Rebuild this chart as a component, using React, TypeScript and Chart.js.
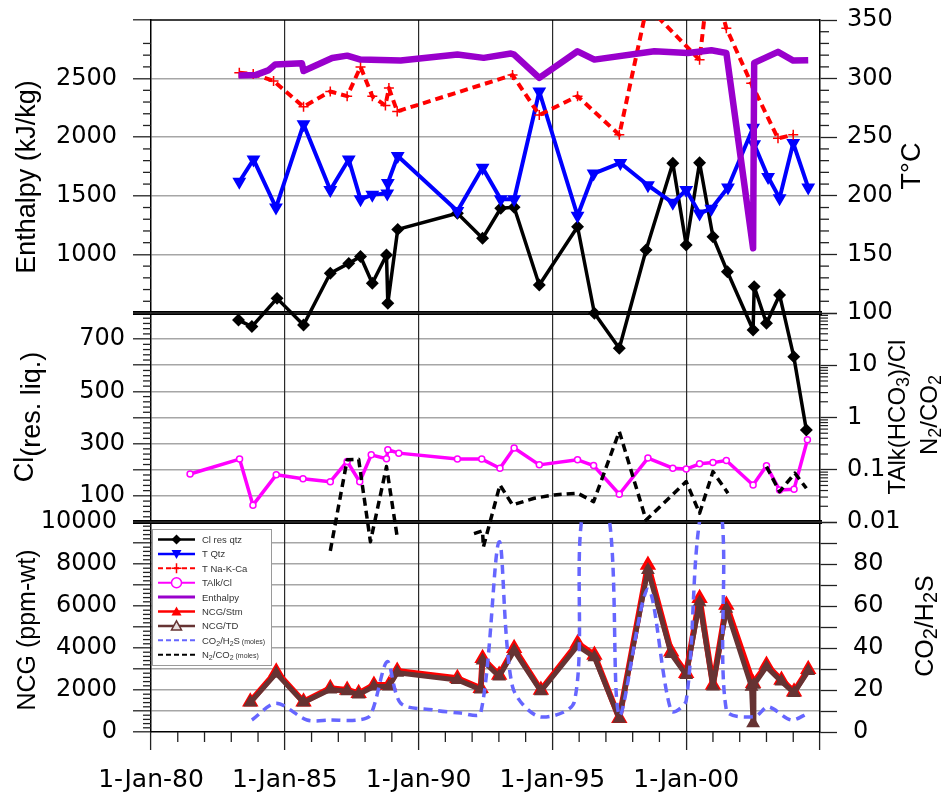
import { useEffect, useRef } from 'react';
import { Chart, registerables } from 'chart.js';

Chart.register(...registerables);

const TICK_FONT = '"DejaVu Sans", Verdana, sans-serif';
const TITLE_FONT = '"Liberation Sans", Arial, sans-serif';

// ---------- series (dates as decimal years) ----------
const clDates = [1983.27, 1983.77, 1984.71, 1985.7, 1986.7, 1987.39, 1987.83, 1988.27, 1988.8, 1988.85, 1989.22, 1991.45, 1992.39, 1993.07, 1993.57, 1994.51, 1995.94, 1996.57, 1997.5, 1998.5, 1999.5, 2000.0, 2000.5, 2001.0, 2001.54, 2002.5, 2002.54, 2003.0, 2003.49, 2004.02, 2004.49];
const clResQtz = [773, 748, 856, 754, 952, 990, 1016, 914, 1022, 837, 1120, 1182, 1086, 1201, 1205, 907, 1130, 799, 665, 1041, 1373, 1060, 1375, 1092, 958, 735, 901, 761, 869, 633, 352];

const qtzDates = [1983.3, 1983.83, 1984.67, 1985.7, 1986.7, 1987.39, 1987.83, 1988.27, 1988.83, 1988.85, 1989.22, 1991.45, 1992.39, 1993.07, 1993.57, 1994.51, 1995.94, 1996.54, 1997.54, 1998.57, 1999.5, 2000.0, 2000.5, 2000.94, 2001.56, 2002.5, 2002.54, 2003.06, 2003.49, 2004.0, 2004.56];
const tQtz = [212, 231, 190, 261, 205, 231, 197, 201, 202, 211, 234, 187, 224, 197, 197, 289, 183, 219, 228, 209, 194, 205, 185, 189, 207, 258, 244, 216, 198, 245, 207];

const nkcDates = [1983.3, 1983.82, 1984.58, 1985.7, 1986.7, 1987.33, 1987.83, 1988.27, 1988.76, 1988.89, 1989.2, 1993.51, 1994.51, 1995.94, 1997.5, 1998.46, 1998.88, 2000.5, 2000.69, 2001.37, 2001.5, 2002.43, 2003.43, 2004.0];
const tNaKCa = [305, 304, 298, 276, 289, 285, 310, 285, 277, 292, 272, 303, 269, 285, 252, 354, 354, 316, 354, 354, 343, 296, 249, 252];

const talkDates = [1981.46, 1983.31, 1983.81, 1984.68, 1985.68, 1986.7, 1987.33, 1987.8, 1988.23, 1988.8, 1988.85, 1989.26, 1991.45, 1992.36, 1993.04, 1993.57, 1994.51, 1995.94, 1996.54, 1997.5, 1998.57, 1999.5, 2000.0, 2000.5, 2001.0, 2001.5, 2002.5, 2003.0, 2003.49, 2004.03, 2004.53];
const talkCl = [0.083, 0.16, 0.021, 0.08, 0.067, 0.059, 0.144, 0.059, 0.193, 0.162, 0.241, 0.208, 0.16, 0.16, 0.107, 0.26, 0.124, 0.155, 0.12, 0.034, 0.167, 0.107, 0.103, 0.13, 0.137, 0.15, 0.051, 0.119, 0.041, 0.0425, 0.375];

const enthDates = [1983.27, 1983.9, 1984.38, 1984.64, 1985.64, 1985.7, 1986.77, 1987.33, 1987.83, 1989.33, 1991.45, 1992.43, 1993.45, 1993.57, 1994.51, 1995.94, 1996.57, 1998.81, 2000.06, 2000.94, 2001.5, 2002.5, 2002.54, 2003.43, 2004.0, 2004.56];
const enthalpy = [2526, 2530, 2570, 2620, 2630, 2565, 2676, 2696, 2662, 2654, 2705, 2677, 2714, 2705, 2506, 2733, 2662, 2733, 2719, 2742, 2719, 1053, 2634, 2728, 2654, 2656];

const ncgStmDates = [1983.71, 1984.68, 1985.7, 1986.7, 1987.33, 1987.76, 1988.33, 1988.89, 1989.2, 1991.45, 1992.32, 1992.39, 1993.01, 1993.57, 1994.57, 1995.94, 1996.57, 1997.5, 1998.57, 1999.44, 2000.0, 2000.5, 2001.0, 2001.5, 2002.5, 2003.0, 2003.56, 2004.03, 2004.56];
const ncgStm = [1443, 2871, 1443, 2081, 2000, 1843, 2238, 2238, 2900, 2557, 2081, 3509, 2714, 3986, 2000, 4224, 3667, 652, 7952, 3824, 2795, 6367, 2238, 6048, 2319, 3190, 2476, 1919, 2986];

const ncgTdDates = [1983.71, 1984.68, 1985.7, 1986.7, 1987.33, 1987.76, 1988.33, 1988.89, 1989.2, 1991.45, 1992.32, 1992.39, 1993.01, 1993.57, 1994.57, 1995.94, 1996.57, 1997.5, 1998.57, 1999.44, 2000.0, 2000.5, 2001.0, 2001.5, 2002.44, 2002.5, 2002.53, 2003.0, 2003.56, 2004.03, 2004.56];
const ncgTd = [1400, 2790, 1400, 2020, 1940, 1790, 2170, 2170, 2820, 2480, 2020, 3410, 2640, 3870, 1940, 4100, 3560, 630, 7720, 3710, 2710, 6180, 2170, 5870, 2150, 414, 2250, 3100, 2400, 1860, 2900];

const co2Dates = [1983.77, 1984.68, 1985.83, 1986.7, 1987.7, 1988.2, 1988.83, 1989.33, 1990.56, 1991.57, 1992.32, 1993.01, 1993.51, 1994.51, 1995.82, 1996.14, 1997.08, 1997.5, 1998.57, 1999.44, 2000.0, 2000.56, 2001.31, 2001.5, 2002.56, 2003.06, 2003.93, 2004.56];
const co2H2s = [5.7, 13.7, 5.7, 5.7, 5.7, 8, 33.5, 13.7, 10.5, 9, 9, 90.6, 21.6, 7.3, 14.4, 105, 105, 8, 68, 10, 15, 105, 105, 10.5, 7.3, 12, 5.7, 9];

const n2Dates = [1986.7, 1987.33, 1987.76, 1988.2, 1988.8, 1989.2, 1990.6, 1992.07, 1992.39, 1992.42, 1993.04, 1993.51, 1994.32, 1995.07, 1995.94, 1996.54, 1997.5, 1998.5, 2000.0, 2000.5, 2001.0, 2001.56, 2002.3, 2003.0, 2003.49, 2004.06, 2004.49];
const n2Co2 = [0.0028, 0.155, 0.158, 0.0042, 0.115, 0.0052, null, 0.006, 0.0068, 0.0033, 0.0513, 0.0212, 0.0285, 0.033, 0.0356, 0.0245, 0.54, 0.0109, 0.0594, 0.0147, 0.092, 0.0356, null, 0.115, 0.038, 0.086, 0.0443];

// ---------- axis ticks ----------
const yearTicks = [1980, 1985, 1990, 1995, 2000, 2005];
const yearLabels = [1980, 1985, 1990, 1995, 2000];
const enthalpyTicks = [500, 1000, 1500, 2000, 2500, 3000];
const enthalpyLabels = [1000, 1500, 2000, 2500];
const tempTicks = [100, 150, 200, 250, 300, 350];
const tempLabels = [150, 200, 250, 300, 350];
const clTicks = [0, 100, 200, 300, 400, 500, 600, 700, 800];
const clLabels = [100, 300, 500, 700];
const ratioTicks = [0.01, 0.1, 1, 10, 100];
const ncgTicks = [0, 1000, 2000, 3000, 4000, 5000, 6000, 7000, 8000, 9000, 10000];
const ncgLabels = [0, 2000, 4000, 6000, 8000, 10000];
const co2Ticks = [0, 10, 20, 30, 40, 50, 60, 70, 80, 90, 100];
const co2Labels = [0, 20, 40, 60, 80];

const GRID = '#a6a6a6';
const TICK = '#222';

const steps = (from: number, to: number, step: number) => {
  const out: number[] = [];
  for (let v = from; v <= to + 1e-9; v += step) out.push(Math.round(v * 1000) / 1000);
  return out;
};
const enthalpyMinor = steps(600, 2800, 100).filter((v) => v % 500 !== 0);
const clMinor = steps(20, 780, 20).filter((v) => v % 100 !== 0);
const ncgMinor = steps(200, 9800, 200).filter((v) => v % 1000 !== 0);
const tempMinor = steps(110, 340, 10).filter((v) => v % 50 !== 0);
const ratioMinor = [0.01, 0.1, 1, 10].flatMap((d) => [2, 3, 4, 5, 6, 7, 8, 9].map((m) => m * d));
const yearMinor = steps(1981, 2004, 1).filter((v) => v % 5 !== 0);

const xy = (xs: number[], ys: (number | null)[]) => xs.map((x, i) => ({ x, y: ys[i] }));
const fixedTicks = (values: number[]) => (scale: any) => {
  scale.ticks = values.map((value) => ({ value }));
};
const showOnly = (shown: number[], fmt: (v: number) => string = (v) => String(v)) => (v: any) =>
  shown.includes(Number(v)) ? fmt(Number(v)) : '';
const gridAt = (shown: number[], color: string) => (c: any) =>
  c.tick && shown.includes(c.tick.value) ? color : 'rgba(0,0,0,0)';
const tickFont = { family: TICK_FONT, size: 24 };
const dateFont = { family: TICK_FONT, size: 25 };
// fixed axis box sizes; label overhang must not shrink the plot area
const fitY = (width: number) => (sc: any) => {
  sc.width = width;
  sc.paddingTop = 0;
  sc.paddingBottom = 0;
};
const fitX = (sc: any) => {
  sc.height = 66;
  sc.paddingLeft = 0;
  sc.paddingRight = 0;
};

// ---------- text helpers ----------
type Part = { t: string; size: number; shift?: number };

function drawRotated(ctx: CanvasRenderingContext2D, baseX: number, centerY: number, parts: Part[]) {
  ctx.save();
  let total = 0;
  const widths = parts.map((p) => {
    ctx.font = `${p.size}px ${TITLE_FONT}`;
    const w = ctx.measureText(p.t).width;
    total += w;
    return w;
  });
  ctx.translate(baseX, centerY);
  ctx.rotate(-Math.PI / 2);
  ctx.fillStyle = '#000';
  ctx.textAlign = 'left';
  ctx.textBaseline = 'alphabetic';
  let x = -total / 2;
  parts.forEach((p, i) => {
    ctx.font = `${p.size}px ${TITLE_FONT}`;
    ctx.fillText(p.t, x, p.shift || 0);
    x += widths[i];
  });
  ctx.restore();
}

function drawRich(ctx: CanvasRenderingContext2D, x: number, y: number, parts: Part[], color: string) {
  ctx.fillStyle = color;
  ctx.textAlign = 'left';
  ctx.textBaseline = 'alphabetic';
  let cx = x;
  for (const p of parts) {
    ctx.font = `${p.size}px ${TITLE_FONT}`;
    ctx.fillText(p.t, cx, y + (p.shift || 0));
    cx += ctx.measureText(p.t).width;
  }
}

type Marker = 'diamond' | 'down' | 'plus' | 'circle' | 'up' | 'upOpen' | null;
type LegendItem = { parts: Part[]; color: string; width: number; dash?: number[]; marker: Marker };

const LS = 9.5;
const legendItems: LegendItem[] = [
  { parts: [{ t: 'Cl res qtz', size: LS }], color: '#000000', width: 2.5, marker: 'diamond' },
  { parts: [{ t: 'T Qtz', size: LS }], color: '#0000ff', width: 2.5, marker: 'down' },
  { parts: [{ t: 'T Na-K-Ca', size: LS }], color: '#ff0000', width: 2, dash: [5, 3], marker: 'plus' },
  { parts: [{ t: 'TAlk/Cl', size: LS }], color: '#ff00ff', width: 2, marker: 'circle' },
  { parts: [{ t: 'Enthalpy', size: LS }], color: '#9900cc', width: 3, marker: null },
  { parts: [{ t: 'NCG/Stm', size: LS }], color: '#ff0000', width: 2.5, marker: 'up' },
  { parts: [{ t: 'NCG/TD', size: LS }], color: '#663333', width: 2.5, marker: 'upOpen' },
  {
    parts: [
      { t: 'CO', size: LS }, { t: '2', size: 7, shift: 2 }, { t: '/H', size: LS }, { t: '2', size: 7, shift: 2 },
      { t: 'S', size: LS }, { t: ' (moles)', size: 7 },
    ],
    color: '#6666ff', width: 2, dash: [5, 3], marker: null,
  },
  {
    parts: [
      { t: 'N', size: LS }, { t: '2', size: 7, shift: 2 }, { t: '/CO', size: LS }, { t: '2', size: 7, shift: 2 },
      { t: ' (moles)', size: 7 },
    ],
    color: '#000000', width: 2, dash: [5, 3], marker: null,
  },
];

function drawMarker(ctx: CanvasRenderingContext2D, kind: Marker, x: number, y: number, color: string) {
  if (!kind) return;
  ctx.save();
  ctx.setLineDash([]);
  ctx.fillStyle = color;
  ctx.strokeStyle = color;
  ctx.lineWidth = 1.5;
  ctx.beginPath();
  if (kind === 'diamond') {
    ctx.moveTo(x, y - 5); ctx.lineTo(x + 5, y); ctx.lineTo(x, y + 5); ctx.lineTo(x - 5, y); ctx.closePath(); ctx.fill();
  } else if (kind === 'down') {
    ctx.moveTo(x - 5, y - 4); ctx.lineTo(x + 5, y - 4); ctx.lineTo(x, y + 5); ctx.closePath(); ctx.fill();
  } else if (kind === 'up' || kind === 'upOpen') {
    ctx.moveTo(x - 5, y + 4); ctx.lineTo(x + 5, y + 4); ctx.lineTo(x, y - 5); ctx.closePath();
    if (kind === 'up') ctx.fill();
    else { ctx.fillStyle = '#e8dede'; ctx.fill(); ctx.stroke(); }
  } else if (kind === 'plus') {
    ctx.moveTo(x - 5, y); ctx.lineTo(x + 5, y); ctx.moveTo(x, y - 5); ctx.lineTo(x, y + 5); ctx.stroke();
  } else if (kind === 'circle') {
    ctx.arc(x, y, 5, 0, Math.PI * 2); ctx.fillStyle = '#fff'; ctx.fill(); ctx.stroke();
  }
  ctx.restore();
}

const decorations = {
  id: 'decorations',
  beforeDatasetsDraw(chart: any) {
    const { ctx, chartArea: a, scales: s } = chart;
    ctx.save();
    const seg = (x0: number, y0: number, x1: number, y1: number, color: string, w: number) => {
      ctx.beginPath();
      ctx.strokeStyle = color;
      ctx.lineWidth = w;
      ctx.moveTo(x0, y0);
      ctx.lineTo(x1, y1);
      ctx.stroke();
    };
    // top edge of the frame
    seg(a.left, a.top, a.right, a.top, '#000', 1.5);
    // minor tick marks
    enthalpyMinor.forEach((v) => { const y = s.yEnth.getPixelForValue(v); seg(a.left - 8, y, a.left, y, TICK, 1.3); });
    clMinor.forEach((v) => { const y = s.yCl.getPixelForValue(v); seg(a.left - 8, y, a.left, y, TICK, 1.3); });
    ncgMinor.forEach((v) => { const y = s.yNCG.getPixelForValue(v); seg(a.left - 8, y, a.left, y, TICK, 1.3); });
    tempMinor.forEach((v) => { const y = s.yT.getPixelForValue(v); seg(a.right, y, a.right + 9, y, TICK, 1.3); });
    ratioMinor.forEach((v) => { const y = s.yRatio.getPixelForValue(v); seg(a.right, y, a.right + 8, y, TICK, 1.2); });
    yearMinor.forEach((v) => { const x = s.x.getPixelForValue(v); seg(x, a.bottom, x, a.bottom + 10, TICK, 1.3); });
    // panel separators
    [s.yEnth.bottom, s.yCl.bottom].forEach((y: number) => {
      seg(a.left - 18, y, a.right + 2, y, '#000', 4);
      seg(a.left - 18, y, a.right + 2, y, '#555', 0.8);
    });
    ctx.restore();
  },
  afterDraw(chart: any) {
    const { ctx, chartArea: a, scales: s } = chart;
    ctx.save();
    // legend
    const lx = a.left + 1;
    const ly = s.yNCG.top + 7;
    const lw = 119;
    const lh = 136;
    ctx.fillStyle = '#fff';
    ctx.fillRect(lx, ly, lw, lh);
    ctx.strokeStyle = '#9a9a9a';
    ctx.lineWidth = 1;
    ctx.strokeRect(lx + 0.5, ly + 0.5, lw, lh);
    legendItems.forEach((it, i) => {
      const y = ly + 10.5 + i * 14.4;
      ctx.beginPath();
      ctx.setLineDash(it.dash || []);
      ctx.strokeStyle = it.color;
      ctx.lineWidth = it.width;
      ctx.moveTo(lx + 6, y);
      ctx.lineTo(lx + 43, y);
      ctx.stroke();
      ctx.setLineDash([]);
      drawMarker(ctx, it.marker, lx + 24.5, y, it.color);
      drawRich(ctx, lx + 50, y + 3.5, it.parts, '#333');
    });
    // axis titles
    drawRotated(ctx, 35, 177, [{ t: 'Enthalpy (kJ/kg)', size: 27 }]);
    drawRotated(ctx, 33, 417, [{ t: 'Cl', size: 27 }, { t: '(res. liq.)', size: 27, shift: 7 }]);
    drawRotated(ctx, 35, 630, [{ t: 'NCG (ppm-wt)', size: 25 }]);
    drawRotated(ctx, 920, 166, [{ t: 'T°C', size: 27 }]);
    drawRotated(ctx, 905, 417, [
      { t: 'TAlk(HCO', size: 24 }, { t: '3', size: 18, shift: 4 }, { t: ')/Cl', size: 24 },
    ]);
    drawRotated(ctx, 937, 415, [
      { t: 'N', size: 24 }, { t: '2', size: 18, shift: 4 }, { t: '/CO', size: 24 }, { t: '2', size: 18, shift: 4 },
    ]);
    drawRotated(ctx, 933, 626, [
      { t: 'CO', size: 25 }, { t: '2', size: 20, shift: 4 }, { t: '/H', size: 25 }, { t: '2', size: 20, shift: 4 },
      { t: 'S', size: 25 },
    ]);
    ctx.restore();
  },
};

export default function App() {
  const canvasRef = useRef<HTMLCanvasElement | null>(null);

  useEffect(() => {
    const canvas = canvasRef.current;
    if (!canvas) return;
    const chart = new Chart(canvas, {
      type: 'line',
      data: {
        datasets: [
          {
            label: 'N2/CO2 (moles)', data: xy(n2Dates, n2Co2), yAxisID: 'yRatio',
            borderColor: '#000000', borderWidth: 3.5, borderDash: [8, 5], pointRadius: 0, clip: false, spanGaps: false,
          },
          {
            label: 'CO2/H2S (moles)', data: xy(co2Dates, co2H2s), yAxisID: 'yCO2',
            borderColor: '#6666ff', borderWidth: 3.5, borderDash: [9, 6], pointRadius: 0, tension: 0.3,
          },
          {
            label: 'NCG/TD', data: xy(ncgTdDates, ncgTd), yAxisID: 'yNCG',
            borderColor: '#663333', borderWidth: 5, pointStyle: 'triangle', pointRadius: 3,
            pointBackgroundColor: '#663333', pointBorderColor: '#663333',
          },
          {
            label: 'NCG/Stm', data: xy(ncgStmDates, ncgStm), yAxisID: 'yNCG',
            borderColor: '#ff0000', borderWidth: 6, pointStyle: 'triangle', pointRadius: 3.5,
            pointBackgroundColor: '#ff0000', pointBorderColor: '#ff0000',
          },
          {
            label: 'Enthalpy', data: xy(enthDates, enthalpy), yAxisID: 'yEnth',
            borderColor: '#9900cc', borderWidth: 6.5, pointRadius: 0,
          },
          {
            label: 'TAlk/Cl', data: xy(talkDates, talkCl), yAxisID: 'yRatio',
            borderColor: '#ff00ff', borderWidth: 3.5, pointStyle: 'circle', pointRadius: 3,
            pointBackgroundColor: '#ffffff', pointBorderColor: '#ff00ff', pointBorderWidth: 1.5,
          },
          {
            label: 'T Na-K-Ca', data: xy(nkcDates, tNaKCa), yAxisID: 'yT',
            borderColor: '#ff0000', borderWidth: 4, borderDash: [8, 5], pointStyle: 'cross', pointRadius: 5,
            pointBorderColor: '#ff0000', pointBorderWidth: 1.5,
          },
          {
            label: 'T Qtz', data: xy(qtzDates, tQtz), yAxisID: 'yT',
            borderColor: '#0000ff', borderWidth: 4, pointStyle: 'triangle', rotation: 180, pointRadius: 4,
            pointBackgroundColor: '#0000ff', pointBorderColor: '#0000ff',
          },
          {
            label: 'Cl res qtz', data: xy(clDates, clResQtz), yAxisID: 'yCl',
            borderColor: '#000000', borderWidth: 3.5, pointStyle: 'rectRot', pointRadius: 4,
            pointBackgroundColor: '#000000', pointBorderColor: '#000000', clip: false,
          },
        ] as any,
      },
      options: {
        animation: false,
        responsive: true,
        maintainAspectRatio: false,
        events: [],
        layout: { padding: { top: 20, left: 0, right: 0, bottom: 0 } },
        elements: { line: { borderJoinStyle: 'round' } },
        plugins: { legend: { display: false }, tooltip: { enabled: false }, title: { display: false } },
        scales: {
          x: {
            type: 'linear', min: 1980, max: 2005,
            afterBuildTicks: fixedTicks(yearTicks),
            afterFit: fitX,
            ticks: {
              autoSkip: false, maxRotation: 0, padding: 15, font: dateFont, color: '#000',
              callback: showOnly(yearLabels, (v) => '1-Jan-' + String(v % 100).padStart(2, '0')),
            },
            grid: {
              z: 0, color: gridAt([1985, 1990, 1995, 2000], '#2a2a2a'), lineWidth: 1.2,
              tickLength: 18, tickColor: TICK, tickWidth: 1.3,
            },
            border: { color: '#000', width: 1.5 },
          },
          yT: {
            type: 'linear', position: 'right', stack: 'right', stackWeight: 293, weight: 1,
            min: 100, max: 350,
            afterBuildTicks: fixedTicks(tempTicks),
            afterFit: fitY(122),
            ticks: { autoSkip: false, padding: 10, font: tickFont, color: '#000', callback: showOnly(tempLabels) },
            grid: { drawOnChartArea: false, tickLength: 17, tickColor: TICK, tickWidth: 1.3 },
            border: { color: '#000', width: 1.5 },
          },
          yRatio: {
            type: 'logarithmic', position: 'right', stack: 'right', stackWeight: 209, weight: 2,
            min: 0.01, max: 100,
            afterBuildTicks: fixedTicks(ratioTicks),
            afterFit: fitY(122),
            ticks: { autoSkip: false, padding: 10, font: tickFont, color: '#000', callback: (v: any) => String(Number(v)) },
            grid: { drawOnChartArea: false, tickLength: 17, tickColor: TICK, tickWidth: 1.3 },
            border: { color: '#000', width: 1.5 },
          },
          yCO2: {
            type: 'linear', position: 'right', stack: 'right', stackWeight: 210, weight: 3,
            min: 0, max: 100,
            afterBuildTicks: fixedTicks(co2Ticks),
            afterFit: fitY(122),
            ticks: { autoSkip: false, padding: 16, font: tickFont, color: '#000', callback: showOnly(co2Labels) },
            grid: { drawOnChartArea: false, tickLength: 17, tickColor: TICK, tickWidth: 1.3 },
            border: { color: '#000', width: 1.5 },
          },
          yEnth: {
            type: 'linear', position: 'left', stack: 'left', stackWeight: 293, weight: 3,
            min: 500, max: 3000,
            afterBuildTicks: fixedTicks(enthalpyTicks),
            afterFit: fitY(151),
            ticks: { autoSkip: false, padding: 16, font: tickFont, color: '#000', callback: showOnly(enthalpyLabels) },
            grid: { color: gridAt(enthalpyLabels, GRID), lineWidth: 1.6, tickLength: 18, tickColor: TICK, tickWidth: 1.3 },
            border: { color: '#000', width: 1.5 },
          },
          yCl: {
            type: 'linear', position: 'left', stack: 'left', stackWeight: 209, weight: 2,
            min: 0, max: 800,
            afterBuildTicks: fixedTicks(clTicks),
            afterFit: fitY(151),
            ticks: { autoSkip: false, padding: 8, font: tickFont, color: '#000', callback: showOnly(clLabels) },
            grid: { color: gridAt([100, 200, 300, 400, 500, 600, 700], GRID), lineWidth: 1.6, tickLength: 18, tickColor: TICK, tickWidth: 1.3 },
            border: { color: '#000', width: 1.5 },
          },
          yNCG: {
            type: 'linear', position: 'left', stack: 'left', stackWeight: 210, weight: 1,
            min: 0, max: 10000,
            afterBuildTicks: fixedTicks(ncgTicks),
            afterFit: fitY(151),
            ticks: { autoSkip: false, padding: 16, font: tickFont, color: '#000', callback: showOnly(ncgLabels) },
            grid: { color: gridAt([1000, 2000, 3000, 4000, 5000, 6000, 7000, 8000, 9000], GRID), lineWidth: 1.6, tickLength: 18, tickColor: TICK, tickWidth: 1.3 },
            border: { color: '#000', width: 1.5 },
          },
        } as any,
      },
      plugins: [decorations],
    });
    return () => chart.destroy();
  }, []);

  return (
    <div style={{ position: 'absolute', left: 0, top: 0, width: 942, height: 798, background: '#ffffff' }}>
      <canvas ref={canvasRef} />
    </div>
  );
}
